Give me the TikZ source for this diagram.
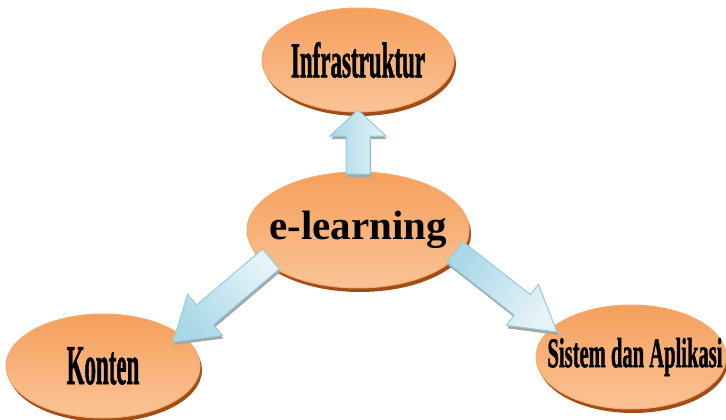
\documentclass[tikz,border=0pt]{standalone}
\usepackage{fontspec}
\usepackage{graphicx}
\usetikzlibrary{shapes.geometric,shadows,calc}
\newfontfamily\heavyfont{Liberation Serif}[BoldFeatures={FakeBold=1.5}]
\newfontfamily\elfont{Liberation Serif}
\definecolor{orTop}{HTML}{F5A05C}
\definecolor{orMid}{HTML}{F4954A}
\definecolor{orBot}{HTML}{FAC396}
\definecolor{orEdge}{HTML}{F6AA70}
\definecolor{orShadow}{HTML}{A04D16}
\definecolor{arEdge}{HTML}{93CDDD}
\definecolor{arDark}{HTML}{A9D8E6}
\definecolor{arLight}{HTML}{E6F4F8}
\tikzset{
  bubble/.style={ellipse, draw=orEdge, line width=1pt, inner sep=0pt,
    top color=orTop, middle color=orMid, bottom color=orBot,
    general shadow={fill=orShadow, shadow xshift=2pt, shadow yshift=-4pt}},
  barrow/.style={draw=arEdge, line width=1pt, left color=arDark, right color=arLight,
    general shadow={fill=black!35, shadow xshift=1pt, shadow yshift=-3pt}},
  lbl/.style={inner sep=0pt}
}
\newcommand\blockarr[6]{%
  \coordinate (hb) at ($(#2)!#5!(#1)$);
  \path[barrow, shading angle=#6]
    ($(#1)!#3!90:(#2)$) -- ($(hb)!#3!-90:(#1)$) -- ($(hb)!#4!-90:(#1)$) -- (#2)
    -- ($(hb)!#4!90:(#1)$) -- ($(hb)!#3!90:(#1)$) -- ($(#1)!#3!-90:(#2)$) -- cycle;
}
\begin{document}
\begin{tikzpicture}[x=1pt,y=-1pt]
\useasboundingbox (0,0) rectangle (726,420);
\node[bubble, minimum width=192pt, minimum height=104pt] (i) at (358,60) {};
\node[bubble, minimum width=222pt, minimum height=116pt] (e) at (358,230) {};
\node[bubble, minimum width=194pt, minimum height=104pt] (k) at (103,366) {};
\node[bubble, minimum width=190pt, minimum height=104pt] (s) at (631,357) {};
\node[lbl] (it) at (i.center)
  {\heavyfont\bfseries\fontsize{50}{50}\selectfont\scalebox{0.46}[1]{Infrastruktur}};
\node[lbl] (et) at (e.center)
  {\elfont\bfseries\fontsize{41}{41}\selectfont e-learning};
\node[lbl] (kt) at (k.center)
  {\heavyfont\bfseries\fontsize{56}{56}\selectfont\scalebox{0.41}[1]{Konten}};
\node[lbl] (st) at ($(s.center)+(4,0)$)
  {\heavyfont\bfseries\fontsize{42}{42}\selectfont\scalebox{0.49}[1]{Sistem dan Aplikasi}};
\coordinate (s1) at ($(e.center)+(0,-56)$);
\coordinate (t1) at ($(i.center)+(0,50)$);
\coordinate (s2) at ($(e.center)+(-87,29)$);
\coordinate (t2) at ($(k.center)+(70,-24)$);
\coordinate (s3) at ($(e.center)+(97,22)$);
\coordinate (t3) at ($(s.center)+(-74,-25)$);
\blockarr{s1}{t1}{12pt}{28pt}{26pt}{90}
\blockarr{s2}{t2}{13pt}{27pt}{42pt}{130}
\blockarr{s3}{t3}{13pt}{26pt}{44pt}{50}
\end{tikzpicture}
\end{document}
